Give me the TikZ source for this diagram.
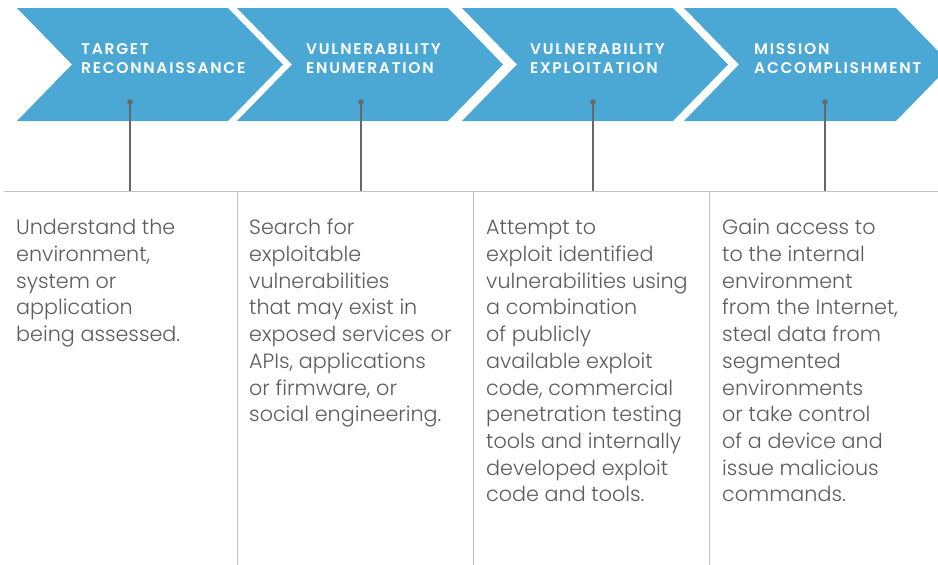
\documentclass[tikz,border=0pt]{standalone}
\usepackage{fontspec}
\setmainfont{Poppins}[UprightFont=* Light, BoldFont=* SemiBold]
\usetikzlibrary{positioning}
\definecolor{chevblue}{HTML}{4BA7D4}
\definecolor{bodygray}{HTML}{5C5C5C}
\definecolor{rulegray}{HTML}{C2C2C2}
\definecolor{stemgray}{HTML}{676767}

\tikzset{
  chevron/.style={fill=chevblue, draw=none},
  steptitle/.style={anchor=north west, inner sep=0pt, align=left, text=white,
    font=\fontsize{15.5}{19.5}\selectfont\bfseries\addfontfeatures{LetterSpace=11}},
  steptext/.style={anchor=north west, inner sep=0pt, align=left, text=bodygray,
    font=\fontsize{20.7}{26.7}\selectfont},
  stemdot/.style={circle, fill=stemgray, inner sep=0pt, minimum size=5.5pt},
  stem/.style={stemgray, line width=1.1pt},
  sepline/.style={rulegray, line width=1pt},
}

\begin{document}
\begin{tikzpicture}[x=1pt, y=-1pt]
        \useasboundingbox (0,0) rectangle (938,565);

        % Draw the chevrons
        \fill[chevron] (17,8) -- (228,8) -- (283,64.5) -- (228,121) -- (17,121) -- (72,64.5) -- cycle;
        \fill[chevron] (237,8) -- (448,8) -- (503,64.5) -- (448,121) -- (237,121) -- (292,64.5) -- cycle;
        \fill[chevron] (462,8) -- (673,8) -- (728,64.5) -- (673,121) -- (462,121) -- (517,64.5) -- cycle;
        \fill[chevron] (684,8) -- (896,8) -- (951,64.5) -- (896,121) -- (684,121) -- (739,64.5) -- cycle;

        % Step titles
        \node[steptitle] (t1) at (81,43) {TARGET\\RECONNAISSANCE};
        \node[steptitle] (t2) at (306,43) {VULNERABILITY\\ENUMERATION};
        \node[steptitle] (t3) at (530,43) {VULNERABILITY\\EXPLOITATION};
        \node[steptitle] (t4) at (754,43) {MISSION\\ACCOMPLISHMENT};

        % Horizontal rule and column separators
        \coordinate (r0) at (4,191);
        \coordinate (r1) at (938,191);
        \draw[sepline] (r0) -- (r1);

        \coordinate (s1) at (237,191);
        \coordinate (s2) at (473,191);
        \coordinate (s3) at (709,191);
        \coordinate (e1) at (237,565);
        \coordinate (e2) at (473,565);
        \coordinate (e3) at (709,565);
        \draw[sepline] (s1) -- (e1);
        \draw[sepline] (s2) -- (e2);
        \draw[sepline] (s3) -- (e3);

        % Draw the stems from each chevron down to the rule
        \node[stemdot] (d1) at (130,102) {};
        \node[stemdot] (d2) at (361,102) {};
        \node[stemdot] (d3) at (593,102) {};
        \node[stemdot] (d4) at (825,102) {};

        \coordinate (b1) at (d1 |- r0);
        \coordinate (b2) at (d2 |- r0);
        \coordinate (b3) at (d3 |- r0);
        \coordinate (b4) at (d4 |- r0);

        \draw[stem] (d1.center) -- (b1);
        \draw[stem] (d2.center) -- (b2);
        \draw[stem] (d3.center) -- (b3);
        \draw[stem] (d4.center) -- (b4);

        % Column texts
        \node[steptext] (c1) at (16,216) {\strut Understand the\\environment,\\system or\\application\\being assessed.};
        \node[steptext] (c2) at (249,216) {\strut Search for\\exploitable\\vulnerabilities\\that may exist in\\exposed services or\\APIs, applications\\or firmware, or\\social engineering.};
        \node[steptext] (c3) at (486,216) {\strut Attempt to\\exploit identified\\vulnerabilities using\\a combination\\of publicly\\available exploit\\code, commercial\\penetration testing\\tools and internally\\developed exploit\\code and tools.};
        \node[steptext] (c4) at (722,216) {\strut Gain access to\\to the internal\\environment\\from the Internet,\\steal data from\\segmented\\environments\\or take control\\of a device and\\issue malicious\\commands.};

\end{tikzpicture}
\end{document}
